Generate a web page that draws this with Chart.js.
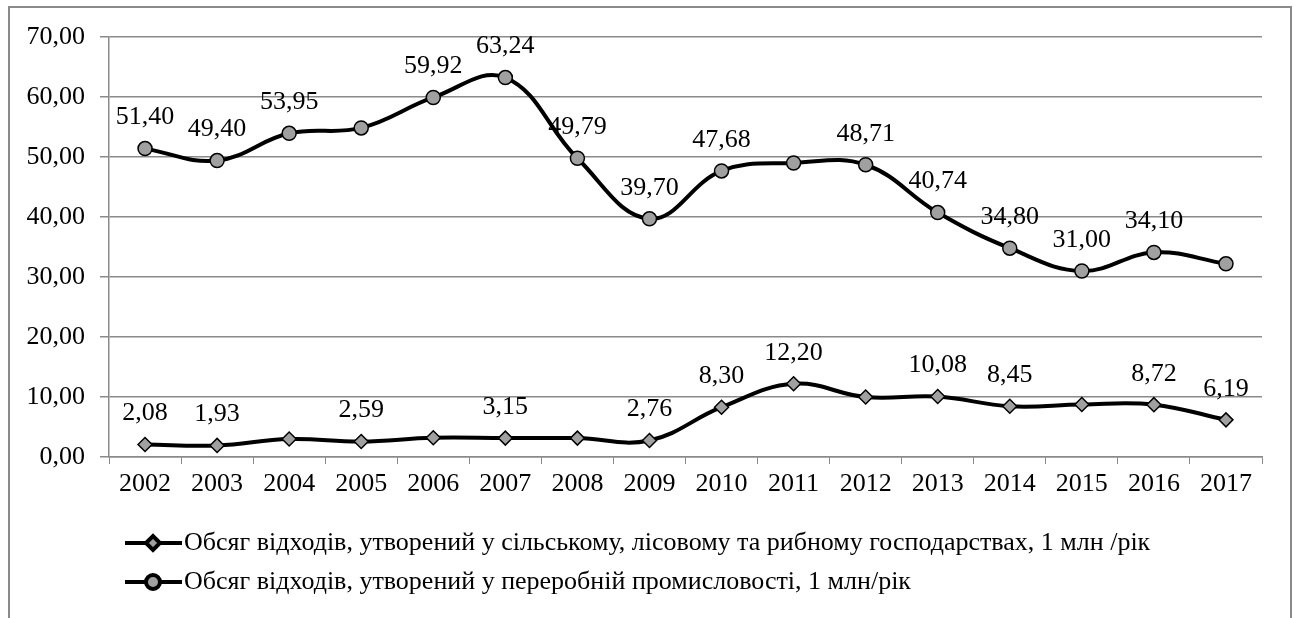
<!DOCTYPE html>
<html>
<head>
<meta charset="utf-8">
<script src="https://cdn.jsdelivr.net/npm/chart.js@4/dist/chart.umd.min.js"></script>
<style>
body { margin: 0; background: #fff; }
</style>
</head>
<body>
<canvas id="wasteChart" width="1295" height="618"></canvas>
<script>
let years = ['2002', '2003', '2004', '2005', '2006', '2007', '2008', '2009',
             '2010', '2011', '2012', '2013', '2014', '2015', '2016', '2017'];

let agriValues = [2.08, 1.93, 3.0, 2.59, 3.2, 3.15, 3.15, 2.76,
                  8.30, 12.20, 10.0, 10.08, 8.45, 8.75, 8.72, 6.19];
let agriLabels = ['2,08', '1,93', null, '2,59', null, '3,15', null, '2,76',
                  '8,30', '12,20', null, '10,08', '8,45', null, '8,72', '6,19'];

let industryValues = [51.40, 49.40, 53.95, 54.85, 59.92, 63.24, 49.79, 39.70,
                      47.68, 49.0, 48.71, 40.74, 34.80, 31.00, 34.10, 32.2];
let industryLabels = ['51,40', '49,40', '53,95', null, '59,92', '63,24', '49,79', '39,70',
                      '47,68', null, '48,71', '40,74', '34,80', '31,00', '34,10', null];

let seriesNames = [
    'Обсяг відходів, утворений у сільському, лісовому та рибному господарствах, 1 млн /рік',
    'Обсяг відходів, утворений у переробній промисловості, 1 млн/рік'
];
let yTicks = [0, 10, 20, 30, 40, 50, 60, 70];

const FONT = '"Liberation Serif", "Times New Roman", serif';
const FONT_SIZE = 26;
const GRID = '#8a8a8a';
const MARKER = '#a0a0a0';

// outer frame
const framePlugin = {
    id: 'frame',
    beforeDraw(chart) {
        let c = chart.ctx;
        c.save();
        c.fillStyle = '#fff';
        c.fillRect(0, 0, chart.width, chart.height);
        c.strokeStyle = GRID;
        c.lineWidth = 2;
        c.strokeRect(9, 7, 1282, 700);
        c.restore();
    }
};

// value labels above points
const labelPlugin = {
    id: 'pointLabels',
    afterDatasetsDraw(chart) {
        let c = chart.ctx;
        c.save();
        c.font = FONT_SIZE + 'px ' + FONT;
        c.fillStyle = '#000';
        c.textAlign = 'center';
        c.textBaseline = 'middle';
        let all = [agriLabels, industryLabels];
        chart.data.datasets.forEach((ds, i) => {
            chart.getDatasetMeta(i).data.forEach((pt, j) => {
                let txt = all[i][j];
                if (txt) c.fillText(txt, pt.x, pt.y - 31);
            });
        });
        c.restore();
    }
};

// legend with line + marker sample
const legendPlugin = {
    id: 'lineLegend',
    afterDraw(chart) {
        let c = chart.ctx;
        let rows = [543, 582];
        c.save();
        chart.data.datasets.forEach((ds, i) => {
            let y = rows[i];
            c.strokeStyle = '#000';
            c.lineWidth = 4;
            c.beginPath();
            c.moveTo(125, y);
            c.lineTo(182, y);
            c.stroke();
            c.fillStyle = MARKER;
            c.strokeStyle = '#000';
            Chart.helpers.drawPoint(c, {
                pointStyle: ds.pointStyle,
                radius: ds.pointRadius,
                rotation: 0,
                borderWidth: 1.5
            }, 153, y);
            c.fillStyle = '#000';
            c.font = FONT_SIZE + 'px ' + FONT;
            c.textAlign = 'left';
            c.textBaseline = 'middle';
            c.fillText(seriesNames[i], 184, y);
        });
        c.restore();
    }
};

let ctx = document.getElementById('wasteChart').getContext('2d');
let chart = new Chart(ctx, {
    type: 'line',
    data: {
        labels: years,
        datasets: [
            {
                label: seriesNames[0],
                data: agriValues,
                borderColor: '#000',
                borderWidth: 4,
                backgroundColor: MARKER,
                pointBackgroundColor: MARKER,
                pointBorderColor: '#000',
                pointBorderWidth: 1.5,
                pointStyle: 'rectRot',
                pointRadius: 7,
                tension: 0.4,
                fill: false
            },
            {
                label: seriesNames[1],
                data: industryValues,
                borderColor: '#000',
                borderWidth: 4,
                backgroundColor: MARKER,
                pointBackgroundColor: MARKER,
                pointBorderColor: '#000',
                pointBorderWidth: 1.5,
                pointStyle: 'circle',
                pointRadius: 7,
                tension: 0.4,
                fill: false
            }
        ]
    },
    options: {
        responsive: false,
        animation: false,
        layout: { padding: { left: 0, top: 37, right: 33, bottom: 116 } },
        plugins: {
            legend: { display: false },
            tooltip: { enabled: false }
        },
        scales: {
            x: {
                offset: true,
                grid: {
                    offset: true,
                    drawOnChartArea: false,
                    drawTicks: true,
                    tickLength: 7,
                    color: GRID
                },
                border: { color: GRID, width: 1.5 },
                ticks: {
                    color: '#000',
                    font: { family: FONT, size: FONT_SIZE },
                    padding: 5,
                    maxRotation: 0,
                    autoSkip: false
                },
                afterFit(scale) { scale.height = 45; }
            },
            y: {
                min: 0,
                max: 70,
                afterBuildTicks(scale) { scale.ticks = yTicks.map(v => ({ value: v })); },
                grid: { color: GRID, tickLength: 9, lineWidth: 1.5 },
                border: { color: GRID, width: 1.5 },
                ticks: {
                    color: '#000',
                    font: { family: FONT, size: FONT_SIZE },
                    padding: 15,
                    callback: v => v.toFixed(2).replace('.', ',')
                },
                afterFit(scale) { scale.width = 109; }
            }
        }
    },
    plugins: [framePlugin, labelPlugin, legendPlugin]
});
</script>
</body>
</html>
